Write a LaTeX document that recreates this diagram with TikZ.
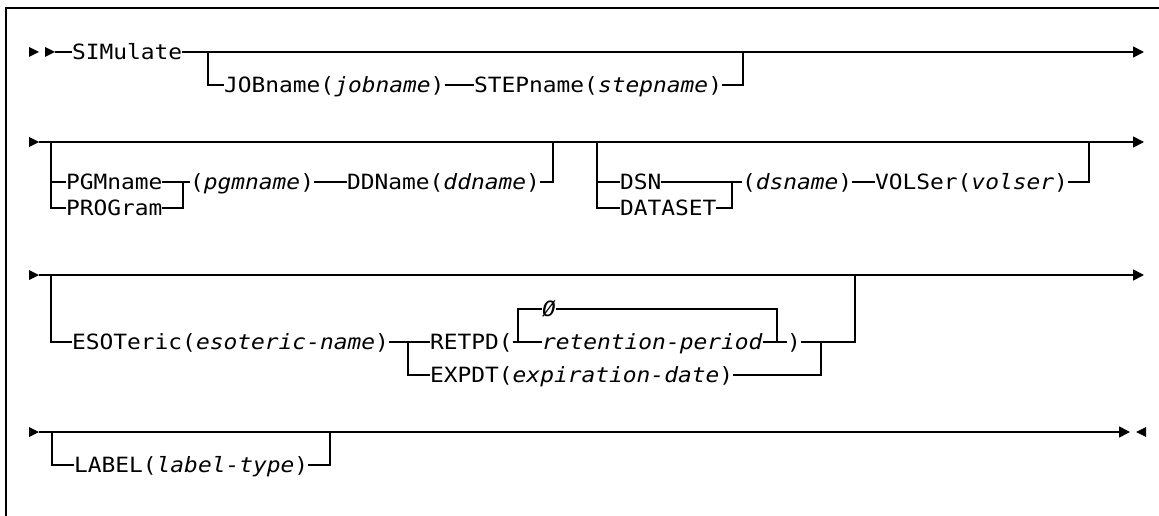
\documentclass[tikz,border=0pt]{standalone}
\usepackage{fontspec}
\setmonofont{DejaVu Sans Mono}[FakeStretch=1.09]
\usetikzlibrary{arrows.meta}
\newcommand\argt[1]{\textit{#1}}
\tikzset{
  kw/.style={font=\ttfamily\fontsize{21}{25}\selectfont, inner sep=0pt, outer sep=0pt,
             text height=15.3pt, text depth=0pt, anchor=west},
  ln/.style={line width=1.6pt},
  arr/.style={line width=1.6pt, -{Triangle[length=11pt,width=11pt]}},
  frame/.style={line width=2pt},
}
\begin{document}
\begin{tikzpicture}[x=1pt,y=-1pt]
\useasboundingbox (0,0) rectangle (1159,516);
% frame
\draw[frame] (6,516) -- (6,8) -- (1159,8);

% ---------- row 1 ----------
\fill (29,47) -- (39,52) -- (29,57) -- cycle;
\fill (45,47) -- (55,52) -- (45,57) -- cycle;
\coordinate (s1) at (55,52);
\coordinate (e1) at (1144,52);
\coordinate (j1a) at (208,52);
\coordinate (j1b) at (743,52);
\node[kw] (sim) at (72,52) {SIMulate};
\node[kw] (job) at (224,85) {JOBname(\argt{jobname})};
\node[kw] (step) at (474,85) {STEPname(\argt{stepname})};
\draw[ln] (s1) -- (sim.west);
\draw[arr] (sim.east) -- (e1);
\draw[ln] (j1a) |- (job.west);
\draw[ln] (job.east) -- (step.west);
\draw[ln] (step.east) -| (j1b);

% ---------- row 2 ----------
\fill (29,137) -- (39,142) -- (29,147) -- cycle;
\coordinate (s2) at (39,142);
\coordinate (e2) at (1144,142);
\coordinate (j2a) at (51,142);
\coordinate (j2b) at (553,142);
\coordinate (j2c) at (597,142);
\coordinate (j2d) at (1089,142);
\draw[arr] (s2) -- (e2);
\node[kw] (pgm) at (66,182) {PGMname};
\node[kw] (prog) at (66,208) {PROGram};
\coordinate (k2) at (183,182);
\node[kw] (pgmn) at (190,182) {(\argt{pgmname})};
\node[kw] (ddn) at (347,182) {DDName(\argt{ddname})};
\draw[ln] (j2a) |- (prog.west);
\draw[ln] (j2a |- pgm.west) -- (pgm.west);
\draw[ln] (pgm.east) -- (k2) -- (pgmn.west);
\draw[ln] (prog.east) -| (k2);
\draw[ln] (pgmn.east) -- (ddn.west);
\draw[ln] (ddn.east) -| (j2b);

\node[kw] (dsn) at (620,182) {DSN};
\node[kw] (dset) at (620,208) {DATASET};
\coordinate (k3) at (732,182);
\node[kw] (dsname) at (742,182) {(\argt{dsname})};
\node[kw] (vol) at (875,182) {VOLSer(\argt{volser})};
\draw[ln] (j2c) |- (dset.west);
\draw[ln] (j2c |- dsn.west) -- (dsn.west);
\draw[ln] (dsn.east) -- (k3) -- (dsname.west);
\draw[ln] (dset.east) -| (k3);
\draw[ln] (dsname.east) -- (vol.west);
\draw[ln] (vol.east) -| (j2d);

% ---------- row 3 ----------
\fill (29,270) -- (39,275) -- (29,280) -- cycle;
\coordinate (s3) at (39,275);
\coordinate (e3) at (1144,275);
\coordinate (j3a) at (51,275);
\coordinate (j3b) at (855,275);
\draw[arr] (s3) -- (e3);
\node[kw] (eso) at (72,342) {ESOTeric(\argt{esoteric-name})};
\coordinate (k4) at (408,342);
\node[kw] (ret) at (430,342) {RETPD(};
\node[kw] (exp) at (430,375) {EXPDT(\argt{expiration-date})};
\coordinate (k5) at (518,342);
\node[kw] (zero) at (542,309) {\argt{Ø}};
\node[kw] (rp) at (542,342) {\argt{retention-period}};
\coordinate (k6) at (777,342);
\node[kw] (close) at (787,342) {)};
\coordinate (k7) at (821,342);
\draw[ln] (j3a) |- (eso.west);
\draw[ln] (eso.east) -- (k4) -- (ret.west);
\draw[ln] (k4) |- (exp.west);
\draw[ln] (ret.east) -- (k5) -- (rp.west);
\draw[ln] (k5) |- (zero.west);
\draw[ln] (zero.east) -| (k6);
\draw[ln] (rp.east) -- (k6) -- (close.west);
\draw[ln] (close.east) -| (j3b);
\draw[ln] (exp.east) -| (k7);

% ---------- row 4 ----------
\fill (29,427) -- (39,432) -- (29,437) -- cycle;
\coordinate (s4) at (39,432);
\coordinate (e4) at (1130,432);
\coordinate (j4a) at (52,432);
\coordinate (j4b) at (330,432);
\draw[arr] (s4) -- (e4);
\fill (1146,427) -- (1136,432) -- (1146,437) -- cycle;
\node[kw] (lab) at (74,465) {LABEL(\argt{label-type})};
\draw[ln] (j4a) |- (lab.west);
\draw[ln] (lab.east) -| (j4b);
\end{tikzpicture}
\end{document}
